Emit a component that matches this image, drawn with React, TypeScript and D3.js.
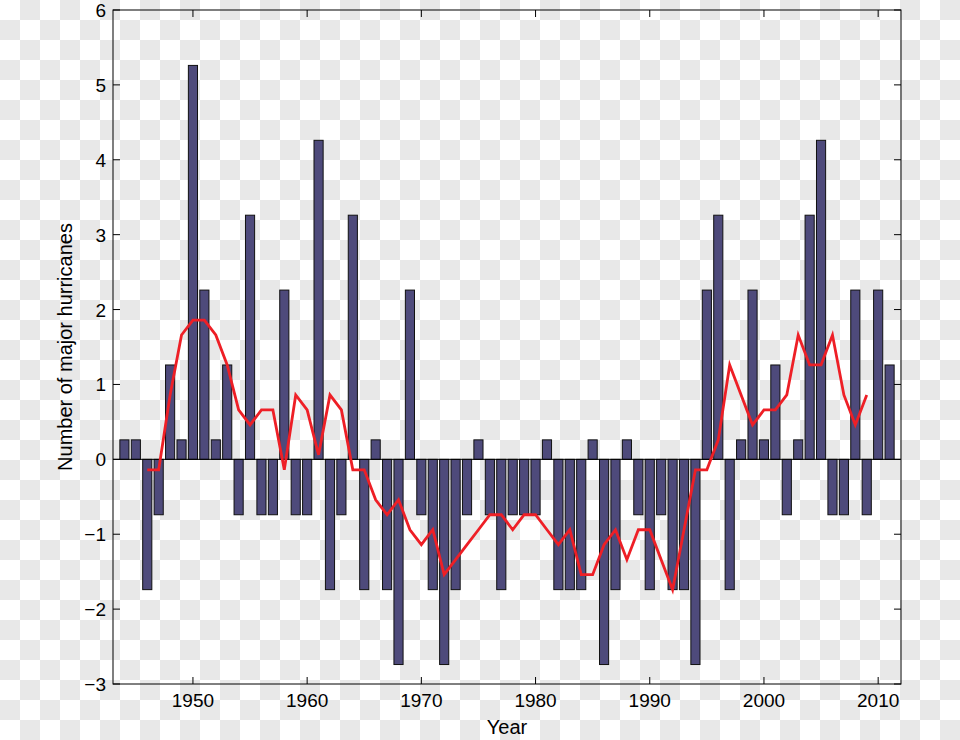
import React from "react";
import * as d3 from "d3";

// Years of the record
const years: number[] = [
  1944, 1945, 1946, 1947, 1948, 1949, 1950, 1951, 1952, 1953, 1954, 1955, 1956, 1957,
  1958, 1959, 1960, 1961, 1962, 1963, 1964, 1965, 1966, 1967, 1968, 1969, 1970, 1971,
  1972, 1973, 1974, 1975, 1976, 1977, 1978, 1979, 1980, 1981, 1982, 1983, 1984, 1985,
  1986, 1987, 1988, 1989, 1990, 1991, 1992, 1993, 1994, 1995, 1996, 1997, 1998, 1999,
  2000, 2001, 2002, 2003, 2004, 2005, 2006, 2007, 2008, 2009, 2010, 2011,
];

// Anomaly in number of major hurricanes (bars)
const anomalies: number[] = [
  0.26, 0.26, -1.74, -0.74, 1.26, 0.26, 5.26, 2.26, 0.26, 1.26, -0.74, 3.26, -0.74, -0.74,
  2.26, -0.74, -0.74, 4.26, -1.74, -0.74, 3.26, -1.74, 0.26, -1.74, -2.74, 2.26, -0.74, -1.74,
  -2.74, -1.74, -0.74, 0.26, -0.74, -1.74, -0.74, -0.74, -0.74, 0.26, -1.74, -1.74, -1.74, 0.26,
  -2.74, -1.74, 0.26, -0.74, -1.74, -0.74, -1.74, -1.74, -2.74, 2.26, 3.26, -1.74, 0.26, 2.26,
  0.26, 1.26, -0.74, 0.26, 3.26, 4.26, -0.74, -0.74, 2.26, -0.74, 2.26, 1.26,
];

// Smoothed curve (red line)
const smoothYears: number[] = [
  1946, 1947, 1948, 1949, 1950, 1951, 1952, 1953, 1954, 1955, 1956, 1957, 1958, 1959,
  1960, 1961, 1962, 1963, 1964, 1965, 1966, 1967, 1968, 1969, 1970, 1971, 1972, 1973,
  1974, 1975, 1976, 1977, 1978, 1979, 1980, 1981, 1982, 1983, 1984, 1985, 1986, 1987,
  1988, 1989, 1990, 1991, 1992, 1993, 1994, 1995, 1996, 1997, 1998, 1999, 2000, 2001,
  2002, 2003, 2004, 2005, 2006, 2007, 2008, 2009,
];
const smoothValues: number[] = [
  -0.14, -0.14, 0.86, 1.66, 1.86, 1.86, 1.66, 1.26, 0.66, 0.46, 0.66, 0.66, -0.14, 0.86,
  0.66, 0.06, 0.86, 0.66, -0.14, -0.14, -0.54, -0.74, -0.54, -0.94, -1.14, -0.94, -1.54, -1.34,
  -1.14, -0.94, -0.74, -0.74, -0.94, -0.74, -0.74, -0.94, -1.14, -0.94, -1.54, -1.54, -1.14, -0.94,
  -1.34, -0.94, -0.94, -1.34, -1.74, -0.94, -0.14, -0.14, 0.26, 1.26, 0.86, 0.46, 0.66, 0.66,
  0.86, 1.66, 1.26, 1.26, 1.66, 0.86, 0.46, 0.86,
];

const xTicks: number[] = [1950, 1960, 1970, 1980, 1990, 2000, 2010];
const yTicks: number[] = [-3, -2, -1, 0, 1, 2, 3, 4, 5, 6];

const W = 960;
const H = 740;
const left = 113;
const right = 901;
const top = 10;
const bottom = 684;
const CELL = 20;

export default function App() {
  const x = d3.scaleLinear().domain([1943, 2012]).range([left, right]);
  const y = d3.scaleLinear().domain([-3, 6]).range([bottom, top]);
  const step = x(1) - x(0);
  const bw = step * 0.8;
  const line = d3
    .line<number>()
    .x((_, i) => x(smoothYears[i]))
    .y((d) => y(d));
  const tick = 7;
  const font = "'Liberation Sans', Arial, Helvetica, sans-serif";
  const fmt = (v: number) => (v < 0 ? "\u2212" + Math.abs(v) : String(v));

  const cols = d3.range(Math.ceil(W / CELL));
  const rows = d3.range(Math.ceil(H / CELL));
  const checks: { cx: number; cy: number }[] = [];
  rows.forEach((r) =>
    cols.forEach((c) => {
      if ((r + c) % 2 === 1) checks.push({ cx: c * CELL, cy: r * CELL });
    })
  );

  return (
    <svg
      width={W}
      height={H}
      style={{ position: "absolute", left: 0, top: 0, display: "block" }}
      fontFamily={font}
    >
      <rect x={0} y={0} width={W} height={H} fill="#ffffff" />
      <g shapeRendering="crispEdges">
        {checks.map((c) => (
          <rect key={c.cx + "_" + c.cy} x={c.cx} y={c.cy} width={CELL} height={CELL} fill="#e8e8e8" />
        ))}
      </g>

      {/* bars */}
      {years.map((yr, i) => {
        const v = anomalies[i];
        const y0 = y(Math.max(0, v));
        const h = Math.abs(y(v) - y(0));
        return (
          <rect
            key={yr}
            x={x(yr) - bw / 2}
            y={y0}
            width={bw}
            height={h}
            fill="#4e4a7b"
            stroke="#111"
            strokeWidth={1}
          />
        );
      })}

      {/* zero line */}
      <line x1={left} x2={right} y1={y(0)} y2={y(0)} stroke="#000" strokeWidth={1} />

      {/* smoothed line */}
      <path
        d={line(smoothValues) || ""}
        fill="none"
        stroke="#ee1f26"
        strokeWidth={2.8}
        strokeLinejoin="miter"
      />

      {/* axes box */}
      <rect
        x={left}
        y={top}
        width={right - left}
        height={bottom - top}
        fill="none"
        stroke="#000"
        strokeWidth={1}
      />

      {/* x ticks */}
      {xTicks.map((t) => (
        <g key={"x" + t}>
          <line x1={x(t)} x2={x(t)} y1={bottom} y2={bottom - tick} stroke="#000" />
          <line x1={x(t)} x2={x(t)} y1={top} y2={top + tick} stroke="#000" />
          <text x={x(t)} y={706.5} fontSize={19} textAnchor="middle" fill="#000">
            {t}
          </text>
        </g>
      ))}

      {/* y ticks */}
      {yTicks.map((t) => (
        <g key={"y" + t}>
          <line x1={left} x2={left + tick} y1={y(t)} y2={y(t)} stroke="#000" />
          <line x1={right} x2={right - tick} y1={y(t)} y2={y(t)} stroke="#000" />
          <text x={106} y={y(t) + 7} fontSize={19} textAnchor="end" fill="#000">
            {fmt(t)}
          </text>
        </g>
      ))}

      {/* axis labels */}
      <text x={(left + right) / 2} y={734} fontSize={20} textAnchor="middle" fill="#000">
        Year
      </text>
      <text
        transform={`translate(72,${(top + bottom) / 2}) rotate(-90)`}
        fontSize={20}
        textAnchor="middle"
        fill="#000"
      >
        Number of major hurricanes
      </text>
    </svg>
  );
}
